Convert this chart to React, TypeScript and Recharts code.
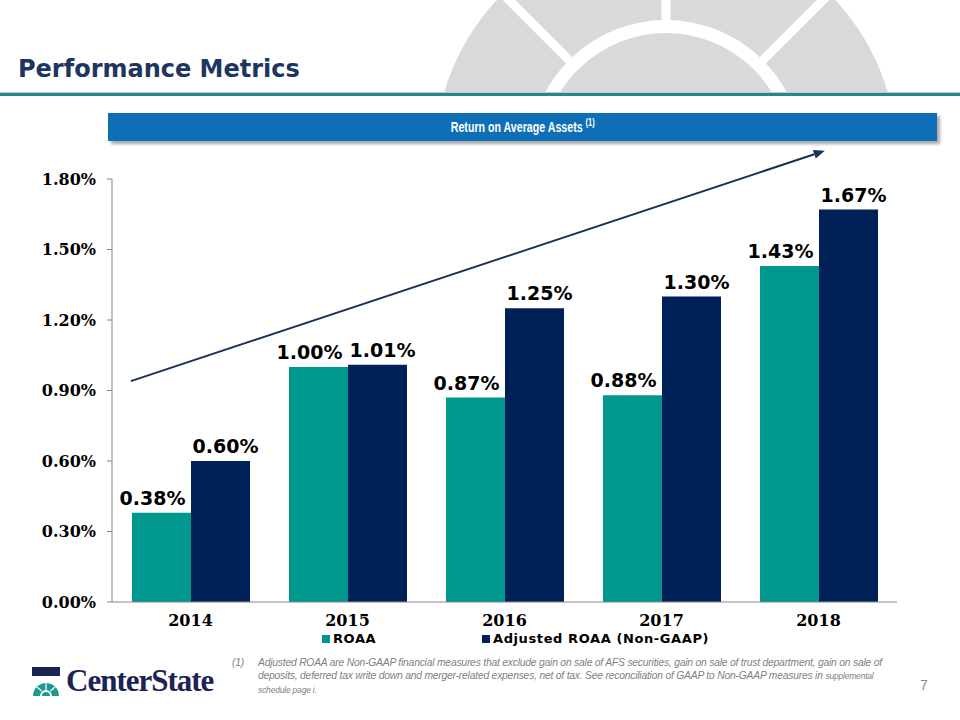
import React from 'react';
import { BarChart, Bar, XAxis, YAxis, Legend, LabelList, ReferenceLine } from 'recharts';

const years = ['2014', '2015', '2016', '2017', '2018'];
const roaa = [0.38, 1.0, 0.87, 0.88, 1.43];
const adjustedRoaa = [0.6, 1.01, 1.25, 1.3, 1.67];
const yTicks = [0, 0.3, 0.6, 0.9, 1.2, 1.5, 1.8];
// trend arrow, in (category index, percent) units
const trendStart = { x: 0.12, y: 0.94 };
const trendEnd = { x: 4.54, y: 1.92 };

const TEAL = '#00978f';
const NAVY = '#002157';
const SANS = 'Verdana, "DejaVu Sans", sans-serif';
const SERIF = '"DejaVu Serif", serif';

const data = years.map((year, i) => ({ year, pos: i, roaa: roaa[i], adjusted: adjustedRoaa[i] }));

const pct = (v: number) => `${v.toFixed(2)}%`;

const ArrowLine = (props: any) => {
  const { x1, y1, x2, y2 } = props;
  const ang = Math.atan2(y2 - y1, x2 - x1);
  const len = 11;
  const w = 4.5;
  const bx = x2 - len * Math.cos(ang);
  const by = y2 - len * Math.sin(ang);
  const px = -Math.sin(ang) * w;
  const py = Math.cos(ang) * w;
  return (
    <g>
      <line x1={x1} y1={y1} x2={bx} y2={by} stroke="#1a2f5a" strokeWidth={2} />
      <polygon points={`${x2},${y2} ${bx + px},${by + py} ${bx - px},${by - py}`} fill="#1a2f5a" />
    </g>
  );
};

const LegendContent = () => (
  <div style={{ fontFamily: SANS, fontWeight: 'bold', fontSize: 13, letterSpacing: 0.6, color: '#000' }}>
    <div style={{ position: 'absolute', left: 322, top: 0, display: 'flex', alignItems: 'center' }}>
      <span style={{ width: 8, height: 8, background: TEAL, marginRight: 3, display: 'inline-block' }} />
      ROAA
    </div>
    <div style={{ position: 'absolute', left: 482, top: 0, display: 'flex', alignItems: 'center', whiteSpace: 'nowrap' }}>
      <span style={{ width: 8, height: 8, background: NAVY, marginRight: 3, display: 'inline-block' }} />
      Adjusted ROAA (Non-GAAP)
    </div>
  </div>
);

const Watermark = () => (
  <svg width={960} height={93} style={{ position: 'absolute', left: 0, top: 0 }}>
    <circle cx={666} cy={157} r={231} fill="#d9d9d9" />
    <circle cx={666} cy={157} r={130.5} fill="none" stroke="#fff" strokeWidth={13} />
    {[-90, -135, -45].map((a) => {
      const r = (a * Math.PI) / 180;
      return (
        <line
          key={a}
          x1={666 + 130 * Math.cos(r)}
          y1={157 + 130 * Math.sin(r)}
          x2={666 + 245 * Math.cos(r)}
          y2={157 + 245 * Math.sin(r)}
          stroke="#fff"
          strokeWidth={9}
        />
      );
    })}
  </svg>
);

const Logo = () => (
  <div style={{ position: 'absolute', left: 32, top: 663, display: 'flex', alignItems: 'center' }}>
    <svg width={28} height={29}>
      <rect x={0} y={0} width={28} height={29} fill="#1c2453" />
      <rect x={0} y={9} width={28} height={20} fill="#fff" />
      <path d="M1 29 A13 13 0 0 1 27 29 Z" fill="#1c9a8e" />
      <path d="M8 29 A6 6 0 0 1 20 29 Z" fill="#fff" />
      <path d="M10 29 A4 4 0 0 1 18 29 Z" fill="#1c9a8e" />
      <line x1={14} y1={16} x2={14} y2={23} stroke="#fff" strokeWidth={1.2} />
      <line x1={5} y1={20} x2={9.5} y2={24} stroke="#fff" strokeWidth={1.2} />
      <line x1={23} y1={20} x2={18.5} y2={24} stroke="#fff" strokeWidth={1.2} />
    </svg>
    <span
      style={{
        marginLeft: 6,
        fontFamily: '"Liberation Serif", serif',
        fontWeight: 'bold',
        fontSize: 31,
        letterSpacing: -1,
        color: '#1c2453',
      }}
    >
      CenterState
    </span>
  </div>
);

export default function App() {
  return (
    <div style={{ position: 'absolute', left: 0, top: 0, width: 960, height: 720, background: '#fff', overflow: 'hidden' }}>
      <Watermark />
      <div style={{ position: 'absolute', left: 0, top: 92, width: 960, height: 1, background: '#a9d3d4' }} />
      <div style={{ position: 'absolute', left: 0, top: 93, width: 960, height: 3, background: '#2a8589' }} />
      <div
        style={{
          position: 'absolute',
          left: 18,
          top: 57,
          fontFamily: SANS,
          fontWeight: 'bold',
          fontSize: 24,
          lineHeight: '24px',
          color: '#1d3561',
        }}
      >
        Performance Metrics
      </div>
      <div
        style={{
          position: 'absolute',
          left: 108,
          top: 113,
          width: 829,
          height: 28,
          background: '#0f6fb6',
          boxShadow: '3px 3px 3px rgba(0,0,0,0.35)',
          color: '#fff',
          textAlign: 'center',
          lineHeight: '28px',
          fontFamily: '"Liberation Sans", Arial, sans-serif',
          fontWeight: 'bold',
          fontSize: 14,
        }}
      >
        <span style={{ display: 'inline-block', transform: 'scaleX(0.76)', whiteSpace: 'nowrap' }}>
          Return on Average Assets <sup style={{ fontSize: 10, lineHeight: 0 }}>(1)</sup>
        </span>
      </div>

      <div style={{ position: 'absolute', left: 0, top: 0 }}>
        <BarChart
          width={960}
          height={720}
          data={data}
          margin={{ top: 179, right: 63, bottom: 88, left: 0 }}
          barCategoryGap={20}
          barGap={0}
        >
          <XAxis
            dataKey="year"
            axisLine={{ stroke: '#868686' }}
            tickLine={false}
            tickSize={0}
            tickMargin={13}
            height={30}
            tick={{ fill: '#000', fontFamily: SERIF, fontWeight: 'bold', fontSize: 16 }}
          />
          <XAxis xAxisId="n" dataKey="pos" type="number" domain={[0, 5]} allowDataOverflow hide />
          <YAxis
            width={112}
            domain={[0, 1.8]}
            ticks={yTicks}
            tickFormatter={pct}
            axisLine={{ stroke: '#868686' }}
            tickLine={{ stroke: '#868686' }}
            tickSize={5}
            tickMargin={11}
            tick={{ fill: '#000', fontFamily: SERIF, fontWeight: 'bold', fontSize: 16 }}
          />
          <Legend
            layout="horizontal"
            verticalAlign="middle"
            wrapperStyle={{ top: 631, left: 0, width: 960, height: 20 }}
            content={LegendContent}
          />
          <Bar dataKey="roaa" name="ROAA" fill={TEAL} isAnimationActive={false}>
            <LabelList
              dataKey="roaa"
              position="top"
              offset={8}
              dx={-9}
              formatter={pct}
              style={{ fill: '#000', fontFamily: SANS, fontWeight: 'bold', fontSize: 19 }}
            />
          </Bar>
          <Bar dataKey="adjusted" name="Adjusted ROAA (Non-GAAP)" fill={NAVY} isAnimationActive={false}>
            <LabelList
              dataKey="adjusted"
              position="top"
              offset={8}
              dx={5}
              formatter={pct}
              style={{ fill: '#000', fontFamily: SANS, fontWeight: 'bold', fontSize: 19 }}
            />
          </Bar>
          <ReferenceLine
            xAxisId="n"
            segment={[trendStart, trendEnd]}
            ifOverflow="visible"
            shape={ArrowLine}
          />
        </BarChart>
      </div>

      <Logo />
      <div
        style={{
          position: 'absolute',
          left: 232,
          top: 656,
          display: 'flex',
          fontFamily: '"Liberation Sans", Arial, sans-serif',
          fontStyle: 'italic',
          fontSize: 10.3,
          lineHeight: '13px',
          color: '#7f7f7f',
          letterSpacing: -0.2,
        }}
      >
        <span style={{ width: 26 }}>(1)</span>
        <span style={{ width: 660 }}>
          Adjusted ROAA are Non-GAAP financial measures that exclude gain on sale of AFS securities, gain on sale of trust department, gain on sale of
          <br />
          deposits, deferred tax write down and merger-related expenses, net of tax. See reconciliation of GAAP to Non-GAAP measures in{' '}
          <span style={{ fontSize: 8.5 }}>supplemental</span>
          <br />
          <span style={{ fontSize: 8.5 }}>schedule page i.</span>
        </span>
      </div>
      <div
        style={{
          position: 'absolute',
          left: 920,
          top: 677,
          fontFamily: '"Liberation Sans", Arial, sans-serif',
          fontSize: 14,
          color: '#8c8c8c',
        }}
      >
        7
      </div>
    </div>
  );
}
